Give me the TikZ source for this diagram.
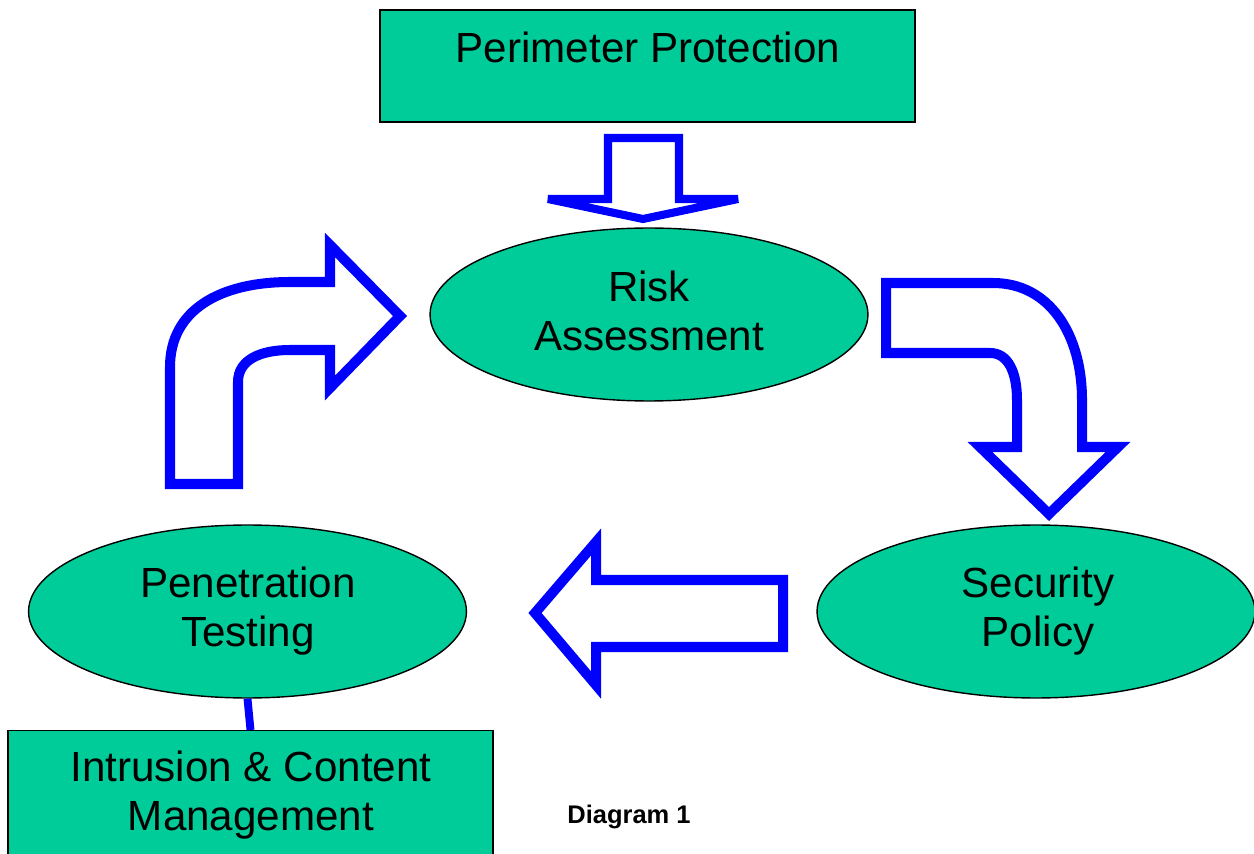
\documentclass[tikz,border=0pt]{standalone}
\usepackage{fontspec}
\setmainfont{Liberation Sans}
\usetikzlibrary{shapes.geometric}
\definecolor{boxgreen}{HTML}{00CC99}
\definecolor{arrowblue}{HTML}{0000FF}
\begin{document}
\begin{tikzpicture}[x=0.02cm,y=-0.02cm,
  lbl/.style={font=\fontsize{24}{27.5}\selectfont, align=center, text=black, inner sep=0pt},
  oval/.style={ellipse, draw=black, line width=0.8pt, fill=boxgreen, minimum width=8.76cm, minimum height=3.46cm, inner sep=0pt},
  greenbox/.style={rectangle, draw=black, line width=0.8pt, fill=boxgreen, inner sep=0pt},
  bigarrow/.style={draw=arrowblue, line width=5.7pt, fill=white, line join=miter, miter limit=6},
  link/.style={draw=arrowblue, line width=4.5pt}]
\clip (0,0) rectangle (1254,854);
\fill[white] (0,0) rectangle (1254,854);

% top box
\node[greenbox, minimum width=10.7cm, minimum height=2.24cm] (pp) at (647.5,66) {};
\node[lbl] (pptext) at (648,47) {Perimeter Protection};

% ellipses
\node[oval] (ra) at (649,314.5) {};
\node[lbl] (ratext) at (649,311) {Risk\\Assessment};
\node[oval] (sp) at (1036,611.5) {};
\node[lbl] (sptext) at (1038,611) {Security\\Policy};
\node[oval] (pt) at (247.5,611.5) {};
\node[lbl] (pttext) at (248,611) {Penetration\\Testing};

% bottom box
\node[greenbox, minimum width=9.7cm, minimum height=3.2cm, anchor=north] (icm) at (250.5,730) {};
\node[lbl] (icmtext) at (251,795) {Intrusion \& Content\\Management};

% connector
\draw[link] (pt.south) -- (icm.north);

% down arrow
\draw[bigarrow, line width=4.6pt] (608,138) -- (679,138) -- (679,199) -- (738,199) -- (643,219) -- (548,199) -- (608,199) -- cycle;

% right curved arrow
\draw[bigarrow] (886,283) -- (993,283) .. controls (1050,283) and (1082,335) .. (1082,400)
  -- (1082,447) -- (1118,447) -- (1049,514) -- (980,447) -- (1017,447) -- (1017,400)
  .. controls (1017,372) and (1008,353) .. (990,353) -- (886,353) -- cycle;

% left arrow
\draw[bigarrow] (783,580) -- (596,580) -- (596,542) -- (535,613) -- (596,685) -- (596,647) -- (783,647) -- cycle;

% left curved arrow
\draw[bigarrow] (170,484) -- (170,367) .. controls (170,310) and (220,282) .. (290,282) -- (330,282)
  -- (330,245) -- (400,316) -- (330,388) -- (330,350) -- (290,350)
  .. controls (260,350) and (238,360) .. (238,382) -- (238,484) -- cycle;

% caption
\node[font=\fontsize{14.5}{17}\selectfont\bfseries, inner sep=0pt] (cap) at (629,817) {Diagram 1};
\end{tikzpicture}
\end{document}
